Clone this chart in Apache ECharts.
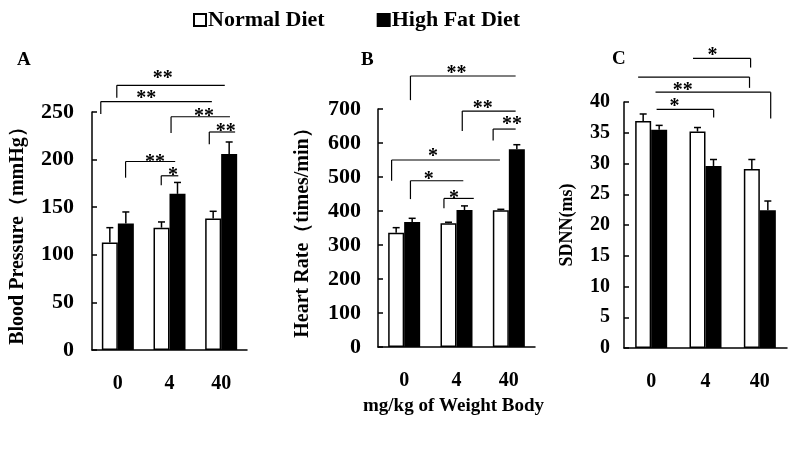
<!DOCTYPE html>
<html>
<head>
<meta charset="utf-8">
<script src="https://cdn.jsdelivr.net/npm/echarts@6/dist/echarts.min.js"></script>
<style>
html,body{margin:0;padding:0;background:#fff;}
#main{width:792px;height:451px;}
</style>
</head>
<body>
<div id="main"></div>
<script>
// ---------- data ----------
const categories = ['0', '4', '40'];
const seriesNames = ['Normal Diet', 'High Fat Diet'];

const bpNormal = [113, 128.5, 138];
const bpNormalErr = [15.5, 6, 7.7];
const bpHigh = [133, 164, 206];
const bpHighErr = [12, 12, 12.5];

const hrNormal = [336, 364, 402];
const hrNormalErr = [15, 3, 3];
const hrHigh = [368, 403, 581.5];
const hrHighErr = [10.5, 12, 13.5];

const sdnnNormal = [36.9, 35.2, 29.1];
const sdnnNormalErr = [1.15, 0.65, 1.55];
const sdnnHigh = [35.5, 29.6, 22.4];
const sdnnHighErr = [0.7, 1.05, 1.5];

// significance brackets: [fromCat, toCat, lineValue, tailValue, tailSide, label, labelCat, labelValue]
const bpBrackets = [
  [-0.02, 2.07, 278, 265, 'L', '**', 0.87, 289],
  [-0.33, 1.82, 261, 248, 'L', '**', 0.55, 268],
  [1.03, 2.17, 245, 228, 'L', '**', 1.67, 249],
  [1.77, 2.27, 229, 216, 'L', '**', 2.09, 233],
  [0.15, 1.11, 198, 181, 'L', '**', 0.72, 201],
  [0.84, 1.17, 183, 173, 'L', '*', 1.07, 187]
];
const hrBrackets = [
  [0.12, 2.13, 797, 726, 'L', '**', 1.0, 815],
  [1.11, 2.13, 694, 635, 'L', '**', 1.5, 712],
  [1.70, 2.13, 641, 607, 'L', '**', 2.06, 665],
  [-0.24, 1.83, 550, 489, 'L', '*', 0.55, 571],
  [0.12, 1.13, 489, 435, 'L', '*', 0.47, 504],
  [0.76, 1.33, 437, 408, 'L', '*', 0.95, 447]
];
const sdnnBrackets = [
  [0.77, 1.83, 47.1, 45.6, 'R', '*', 1.13, 48.1],
  [-0.24, 1.81, 44.05, 42.3, 'R', '', 0, 0],
  [0.08, 2.20, 41.6, 37.3, 'R', '**', 0.58, 42.5],
  [0.10, 1.15, 38.8, 37.5, 'R', '*', 0.43, 39.8]
];

// ---------- style ----------
const FONT = "'Liberation Serif', 'Times New Roman', serif";
const BAR_W = 16;
const panels = [
  {key: 'A', grid: {left: 92, top: 112, width: 155, height: 238}, max: 250, interval: 50,
   normal: bpNormal, normalErr: bpNormalErr, high: bpHigh, highErr: bpHighErr,
   brackets: bpBrackets, yName: 'Blood Pressure（mmHg）', nameGap: 64, labelMargin: 18},
  {key: 'B', grid: {left: 378, top: 109, width: 157, height: 238}, max: 700, interval: 100,
   normal: hrNormal, normalErr: hrNormalErr, high: hrHigh, highErr: hrHighErr,
   brackets: hrBrackets, yName: 'Heart Rate（times/min）', nameGap: 65, labelMargin: 17},
  {key: 'C', grid: {left: 624, top: 102, width: 163, height: 246}, max: 40, interval: 5,
   normal: sdnnNormal, normalErr: sdnnNormalErr, high: sdnnHigh, highErr: sdnnHighErr,
   brackets: sdnnBrackets, yName: 'SDNN(ms)', nameGap: 48, labelMargin: 14}
];

const grids = [], xAxes = [], yAxes = [], series = [];
panels.forEach((p, i) => {
  grids.push(Object.assign({containLabel: false}, p.grid));
  xAxes.push({
    type: 'category', gridIndex: i, data: categories,
    axisLine: {lineStyle: {color: '#000', width: 1.5}},
    axisTick: {inside: true, length: 5, lineStyle: {color: '#000', width: 1.5}},
    axisLabel: {color: '#000', fontFamily: FONT, fontWeight: 'bold', fontSize: 20, margin: 24},
    splitLine: {show: false}
  });
  yAxes.push({
    type: 'value', gridIndex: i, min: 0, max: p.max, interval: p.interval,
    name: p.yName, nameLocation: 'middle', nameGap: p.nameGap, nameRotate: 90,
    nameTextStyle: {color: '#000', fontFamily: FONT, fontWeight: 'bold', fontSize: p.key === 'C' ? 18 : 20},
    axisLine: {show: true, lineStyle: {color: '#000', width: 1.5}},
    axisTick: {show: true, inside: true, length: 5, lineStyle: {color: '#000', width: 1.5}},
    axisLabel: {color: '#000', fontFamily: FONT, fontWeight: 'bold', fontSize: p.key === 'C' ? 20 : 22, margin: p.labelMargin},
    splitLine: {show: false}
  });
  series.push({
    name: seriesNames[0], type: 'bar', xAxisIndex: i, yAxisIndex: i, data: p.normal,
    barWidth: BAR_W, barGap: '0%',
    itemStyle: {color: '#fff', borderColor: '#000', borderWidth: 1.5}
  });
  series.push({
    name: seriesNames[1], type: 'bar', xAxisIndex: i, yAxisIndex: i, data: p.high,
    barWidth: BAR_W, barGap: '0%',
    itemStyle: {color: '#000', borderColor: '#000', borderWidth: 1.5}
  });
  // error bars (upper only)
  const errData = [];
  p.normal.forEach((v, k) => errData.push([k, v + p.normalErr[k], v, -1]));
  p.high.forEach((v, k) => errData.push([k, v + p.highErr[k], v, 1]));
  series.push({
    type: 'custom', xAxisIndex: i, yAxisIndex: i, z: 5, silent: true,
    data: errData,
    encode: {x: 0, y: [1, 2]},
    renderItem: function (params, api) {
      const top = api.coord([api.value(0), api.value(1)]);
      const base = api.coord([api.value(0), api.value(2)]);
      const off = api.value(3) * BAR_W / 2;
      const x = top[0] + off;
      const cap = 3.5;
      return {
        type: 'group',
        children: [
          {type: 'line', shape: {x1: x, y1: base[1], x2: x, y2: top[1]}, style: {stroke: '#000', lineWidth: 1.5}},
          {type: 'line', shape: {x1: x - cap, y1: top[1], x2: x + cap, y2: top[1]}, style: {stroke: '#000', lineWidth: 1.5}}
        ]
      };
    }
  });
  // significance brackets
  const br = p.brackets;
  series.push({
    type: 'custom', xAxisIndex: i, yAxisIndex: i, z: 6, silent: true, clip: false,
    data: br.map(b => [0, b[2]]),
    encode: {x: 0, y: 1},
    renderItem: function (params, api) {
      const b = br[params.dataIndex];
      const c0 = api.coord([0, 0]);
      const band = api.size([1, 0])[0];
      const px = c => c0[0] + c * band;
      const py = v => api.coord([0, v])[1];
      const x1 = px(b[0]), x2 = px(b[1]), y = py(b[2]), ty = py(b[3]);
      const tx = b[4] === 'L' ? x1 : x2;
      const children = [
        {type: 'line', shape: {x1: x1, y1: y, x2: x2, y2: y}, style: {stroke: '#000', lineWidth: 1.2}},
        {type: 'line', shape: {x1: tx, y1: y, x2: tx, y2: ty}, style: {stroke: '#000', lineWidth: 1.2}}
      ];
      if (b[5]) {
        children.push({type: 'text', style: {
          text: b[5], x: px(b[6]), y: py(b[7]) + 4, align: 'center', verticalAlign: 'middle',
          font: 'bold 20px ' + FONT, fill: '#000'
        }});
      }
      return {type: 'group', children: children};
    }
  });
});

const chart = echarts.init(document.getElementById('main'), null, {renderer: 'canvas'});
chart.setOption({
  backgroundColor: '#fff',
  animation: false,
  title: [
    {text: 'A', left: 12, top: 46, textStyle: {fontFamily: FONT, fontWeight: 'bold', fontSize: 19, color: '#000'}},
    {text: 'B', left: 356, top: 46, textStyle: {fontFamily: FONT, fontWeight: 'bold', fontSize: 19, color: '#000'}},
    {text: 'C', left: 607, top: 45, textStyle: {fontFamily: FONT, fontWeight: 'bold', fontSize: 19, color: '#000'}}
  ],
  legend: {
    data: seriesNames, left: 188, top: 4, itemWidth: 12, itemHeight: 12, itemGap: 52,
    icon: 'rect',
    textStyle: {color: '#000', fontFamily: FONT, fontWeight: 'bold', fontSize: 22, padding: [0, 0, 0, -3]}
  },
  grid: grids, xAxis: xAxes, yAxis: yAxes, series: series,
  graphic: [
    {type: 'text', left: 363, top: 397, style: {
      text: 'mg/kg of Weight Body', font: 'bold 19px ' + FONT, fill: '#000'
    }}
  ]
});
</script>
</body>
</html>
